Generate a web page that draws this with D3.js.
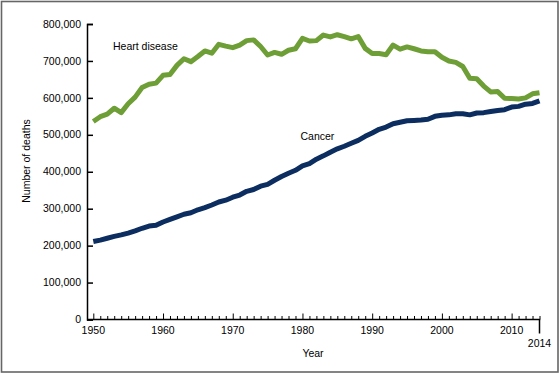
<!DOCTYPE html>
<html><head><meta charset="utf-8">
<script src="https://cdn.jsdelivr.net/npm/d3@7"></script>
<style>body{margin:0;background:#fff}svg{display:block}text{font-family:"Liberation Sans",Arial,sans-serif;fill:#000}</style>
</head><body>
<svg id="c" width="560" height="374"></svg>
<script>
const years = d3.range(1950, 2015);
const heartDisease = [536000,549000,556000,572000,560000,584000,602000,628000,637000,640000,
661000,663000,688000,706000,698000,712000,727000,721000,745000,740000,
736000,743000,755000,757000,739000,716000,723000,718000,729000,733000,
761000,754000,755000,770000,765000,771000,766000,760000,766000,734000,
720000,720000,717000,743000,732000,738000,733000,727000,725000,725000,
710000,700000,696000,685000,653000,652000,632000,616000,617000,599000,
598000,597000,600000,611000,614000];
const cancer = [211000,215000,220000,225000,229000,234000,240000,247000,253000,255000,
264000,271000,278000,285000,289000,297000,303000,310000,318000,323000,
331000,337000,347000,352000,361000,366000,377000,387000,396000,404000,
416000,422000,434000,443000,453000,462000,469000,477000,485000,496000,
505000,515000,521000,530000,534000,538000,539000,540000,542000,550000,
553000,554000,557000,557000,554000,559000,560000,563000,566000,568000,
575000,577000,583000,585000,592000];
const yTicks = [0,100000,200000,300000,400000,500000,600000,700000,800000];
const xMajor = [1950,1960,1970,1980,1990,2000,2010];

const svg = d3.select("#c");
svg.append("rect").attr("x",1.5).attr("y",1.5).attr("width",556.5).attr("height",370.5)
  .attr("fill","none").attr("stroke","#666").attr("stroke-width",1.6);

const x = d3.scaleLinear().domain([1950,2014]).range([93.3,539.5]);
const y = d3.scaleLinear().domain([0,800000]).range([319.5,24]);
const axX = 87;

// y axis
const ya = svg.append("g").attr("transform",`translate(${axX},0)`)
  .call(d3.axisRight(y).tickValues(yTicks).tickSize(6).tickFormat(""));
ya.select(".domain").attr("stroke","#000").attr("stroke-width",1.5);
ya.selectAll("line").attr("stroke","#000").attr("stroke-width",1.5);
svg.append("g").selectAll("text").data(yTicks).join("text")
  .attr("x",81).attr("y",d=>y(d)).attr("dy","0.35em").attr("text-anchor","end")
  .attr("font-size","10.5px").text(d=>d3.format(",")(d));

// x axis
svg.append("line").attr("x1",axX).attr("x2",x(2014)+0.7).attr("y1",y(0)).attr("y2",y(0))
  .attr("stroke","#000").attr("stroke-width",1.5);
const xa = svg.append("g").attr("transform",`translate(0,${y(0)})`)
  .call(d3.axisTop(x).tickValues(years).tickSize(3.5).tickFormat(""));
xa.select(".domain").remove();
xa.selectAll(".tick line").attr("stroke","#000").attr("stroke-width",1)
  .attr("y2",d=>xMajor.includes(d)?-6:-3.5);
svg.append("line").attr("x1",x(2014)).attr("x2",x(2014)).attr("y1",y(0)).attr("y2",y(0)+14)
  .attr("stroke","#000").attr("stroke-width",1.5);
svg.append("g").selectAll("text").data(xMajor).join("text")
  .attr("x",d=>x(d)).attr("y",334).attr("text-anchor","middle").attr("font-size","10.5px").text(d=>d);
svg.append("text").attr("x",x(2014)).attr("y",347).attr("text-anchor","middle").attr("font-size","10.5px").text("2014");
svg.append("text").attr("x",313).attr("y",356.5).attr("text-anchor","middle").attr("font-size","10.5px").text("Year");
svg.append("text").attr("transform","translate(29.5,161) rotate(-90)").attr("text-anchor","middle")
  .attr("font-size","10.5px").text("Number of deaths");

const line = d3.line().x((d,i)=>x(years[i])).y(d=>y(d));
svg.append("path").datum(heartDisease).attr("d",line).attr("fill","none")
  .attr("stroke","#6e9e36").attr("stroke-width",5).attr("stroke-linejoin","round");
svg.append("path").datum(cancer).attr("d",line).attr("fill","none")
  .attr("stroke","#0b2d5f").attr("stroke-width",5).attr("stroke-linejoin","round");

svg.append("text").attr("x",113).attr("y",49.5).attr("font-size","10.5px").text("Heart disease");
svg.append("text").attr("x",300.5).attr("y",139.8).attr("font-size","10.5px").text("Cancer");
</script>
</body></html>
